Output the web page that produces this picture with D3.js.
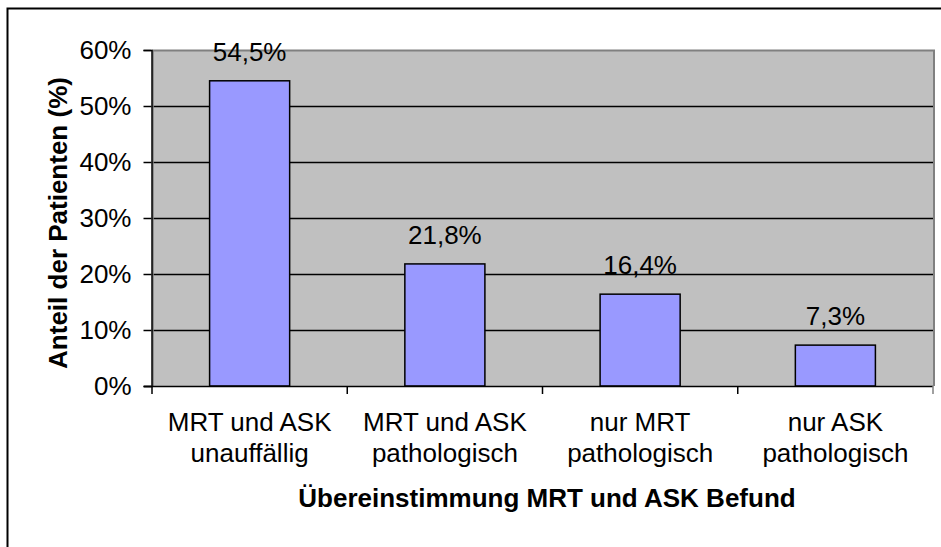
<!DOCTYPE html>
<html><head><meta charset="utf-8">
<script src="https://cdn.jsdelivr.net/npm/d3@7"></script>
<style>html,body{margin:0;padding:0;background:#fff;}svg{display:block;}</style>
</head><body>
<script>
const categories = [["MRT und ASK","unauffällig"],["MRT und ASK","pathologisch"],["nur MRT","pathologisch"],["nur ASK","pathologisch"]];
const values = [54.5, 21.8, 16.4, 7.3];
const valueLabels = ["54,5%","21,8%","16,4%","7,3%"];
const yTicks = [0,10,20,30,40,50,60];
const yTitle = "Anteil der Patienten (%)";
const xTitle = "Übereinstimmung MRT und ASK Befund";

const W = 941, H = 547;
const svg = d3.select("body").append("svg").attr("width", W).attr("height", H);
const font = "'Liberation Sans', Arial, sans-serif";
const fs = 26;

// outer frame
svg.append("rect").attr("x", 7.5).attr("y", 8.5).attr("width", 960).attr("height", 600)
  .attr("fill", "#fff").attr("stroke", "#000").attr("stroke-width", 2);

const L = 152, R = 933, T = 50, B = 386;
const x = d3.scaleBand().domain(d3.range(categories.length)).range([L, R]).paddingInner(0.59).paddingOuter(0.295);
const y = d3.scaleLinear().domain([0, 60]).range([B, T]);

// plot area
svg.append("rect").attr("x", L).attr("y", T).attr("width", R - L).attr("height", B - T).attr("fill", "#C0C0C0");
// gridlines
svg.append("g").selectAll("line").data(yTicks.filter(d => d > 0 && d < 60)).join("line")
  .attr("x1", L).attr("x2", R).attr("y1", d => Math.round(y(d)) + 0.5).attr("y2", d => Math.round(y(d)) + 0.5)
  .attr("stroke", "#000").attr("stroke-width", 1.5);
// plot border (gray)
svg.append("path").attr("d", `M${L},${T+0.5}H${R+1}V${B}`).attr("fill", "none").attr("stroke", "#808080").attr("stroke-width", 2);
svg.append("line").attr("x1", L+1).attr("x2", L+1).attr("y1", T).attr("y2", B).attr("stroke", "#808080").attr("stroke-width", 1.5);

// bars
svg.append("g").selectAll("rect").data(values).join("rect")
  .attr("x", (d, i) => x(i)).attr("y", d => y(d)).attr("width", x.bandwidth()).attr("height", d => B - y(d))
  .attr("fill", "#9999FF").attr("stroke", "#000").attr("stroke-width", 1.5);

// value labels
svg.append("g").selectAll("text").data(values).join("text")
  .attr("x", (d, i) => x(i) + x.bandwidth() / 2).attr("y", d => y(d) - 20)
  .attr("text-anchor", "middle").attr("font-family", font).attr("font-size", fs).attr("fill", "#000")
  .text((d, i) => valueLabels[i]);

// y axis
const yAxis = d3.axisLeft(y).tickValues(yTicks).tickFormat(d => d + "%").tickSize(8).tickPadding(12);
const gy = svg.append("g").attr("transform", `translate(${L - 0.5},0)`).call(yAxis);
gy.select(".domain").attr("stroke", "#000").attr("stroke-width", 1.5);
gy.selectAll(".tick line").attr("stroke", "#000").attr("stroke-width", 1.5);
gy.selectAll(".tick text").attr("font-family", font).attr("font-size", fs).attr("fill", "#000");

// x axis
svg.append("line").attr("x1", L - 8).attr("x2", R).attr("y1", B + 0.5).attr("y2", B + 0.5).attr("stroke", "#000").attr("stroke-width", 1.5);
const bounds = d3.range(categories.length + 1).map(i => L + i * (R - L) / categories.length);
svg.append("g").selectAll("line").data(bounds).join("line")
  .attr("x1", d => d).attr("x2", d => d).attr("y1", B).attr("y2", B + 8)
  .attr("stroke", (d, i) => i === bounds.length - 1 ? "#808080" : "#000").attr("stroke-width", 1.5);

const xl = svg.append("g").selectAll("text").data(categories).join("text")
  .attr("text-anchor", "middle").attr("font-family", font).attr("font-size", fs).attr("fill", "#000");
xl.each(function(d, i) {
  const t = d3.select(this);
  const cx = x(i) + x.bandwidth() / 2;
  d.forEach((line, k) => t.append("tspan").attr("x", cx).attr("y", 431 + k * 31).text(line));
});

// titles
svg.append("text").attr("x", 547).attr("y", 507).attr("text-anchor", "middle")
  .attr("font-family", font).attr("font-size", fs).attr("font-weight", "bold").text(xTitle);
svg.append("text").attr("transform", `translate(67,223) rotate(-90)`).attr("text-anchor", "middle")
  .attr("font-family", font).attr("font-size", fs).attr("font-weight", "bold").text(yTitle);
</script>
</body></html>
